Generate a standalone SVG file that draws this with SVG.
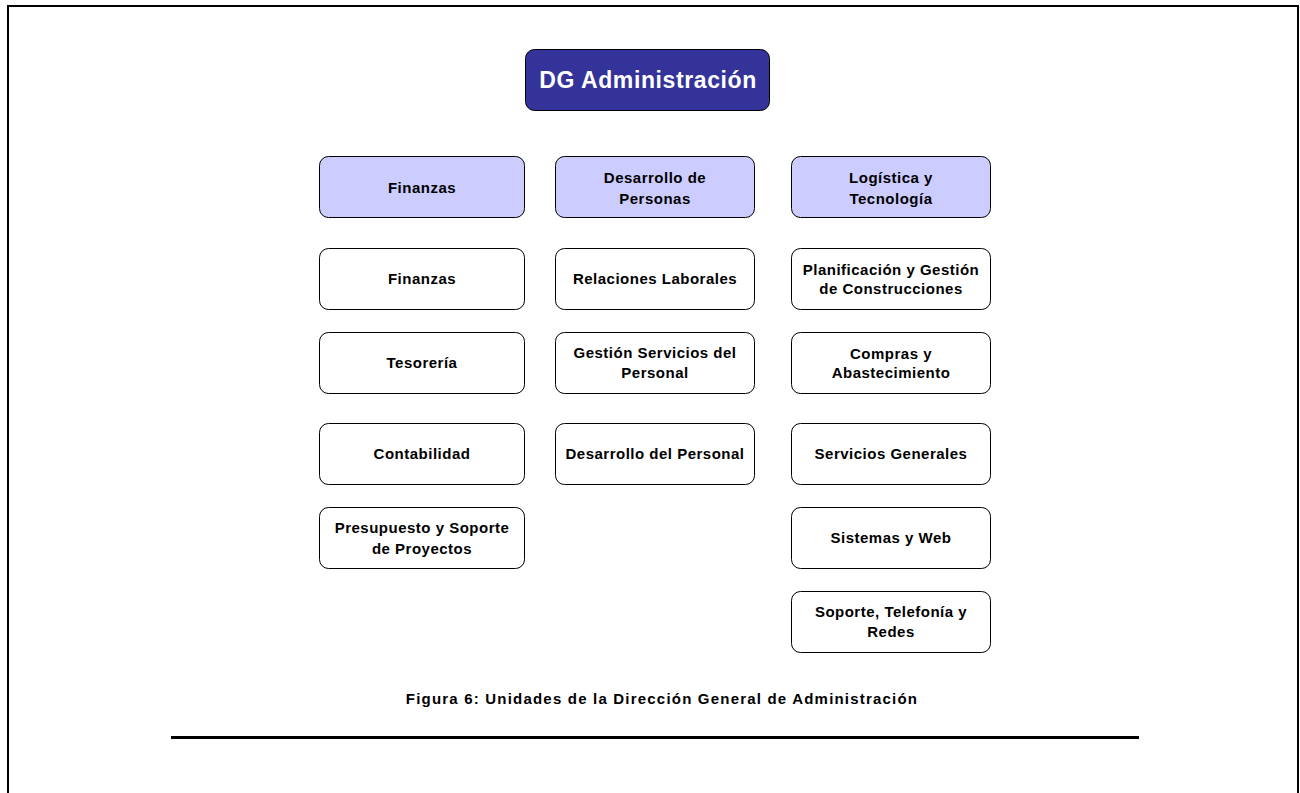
<svg xmlns="http://www.w3.org/2000/svg" width="1300" height="793" viewBox="0 0 1300 793">
<style>
.b{fill:#fff;stroke:#000;stroke-width:1}
.h{fill:#ccccff;stroke:#000;stroke-width:1}
.t{font-family:"Liberation Sans",Arial,sans-serif;font-size:15px;font-weight:bold;fill:#000;text-anchor:middle;letter-spacing:0.5px}
</style>
<rect x="0" y="0" width="1300" height="793" fill="#fff"/>
<path d="M8 793V6H1298V793" fill="none" stroke="#000" stroke-width="2"/>
<line x1="171" y1="737.5" x2="1139" y2="737.5" stroke="#000" stroke-width="3"/>
<g id="dg"><rect x="525.5" y="49.5" width="244" height="61" rx="9" fill="#333399" stroke="#000"/><text x="648" y="88" font-family="Liberation Sans,Arial,sans-serif" font-size="23" font-weight="bold" fill="#fff" text-anchor="middle" letter-spacing="0.6">DG Administración</text></g>
<g id="h1"><rect class="h" x="319.5" y="156.5" width="205" height="61" rx="9"/><text class="t" x="422" y="193">Finanzas</text></g>
<g id="h2"><rect class="h" x="555.5" y="156.5" width="199" height="61" rx="9"/><text class="t" x="655" y="183">Desarrollo de</text><text class="t" x="655" y="204">Personas</text></g>
<g id="h3"><rect class="h" x="791.5" y="156.5" width="199" height="61" rx="9"/><text class="t" x="891" y="183">Logística y</text><text class="t" x="891" y="204">Tecnología</text></g>
<g id="f1"><rect class="b" x="319.5" y="248.5" width="205" height="61" rx="9"/><text class="t" x="422" y="284">Finanzas</text></g>
<g id="f2"><rect class="b" x="319.5" y="332.5" width="205" height="61" rx="9"/><text class="t" x="422" y="368">Tesorería</text></g>
<g id="f3"><rect class="b" x="319.5" y="423.5" width="205" height="61" rx="9"/><text class="t" x="422" y="459">Contabilidad</text></g>
<g id="f4"><rect class="b" x="319.5" y="507.5" width="205" height="61" rx="9"/><text class="t" x="422" y="533">Presupuesto y Soporte</text><text class="t" x="422" y="554">de Proyectos</text></g>
<g id="p1"><rect class="b" x="555.5" y="248.5" width="199" height="61" rx="9"/><text class="t" x="655" y="284">Relaciones Laborales</text></g>
<g id="p2"><rect class="b" x="555.5" y="332.5" width="199" height="61" rx="9"/><text class="t" x="655" y="358">Gestión Servicios del</text><text class="t" x="655" y="378">Personal</text></g>
<g id="p3"><rect class="b" x="555.5" y="423.5" width="199" height="61" rx="9"/><text class="t" x="655" y="459">Desarrollo del Personal</text></g>
<g id="l1"><rect class="b" x="791.5" y="248.5" width="199" height="61" rx="9"/><text class="t" x="891" y="275">Planificación y Gestión</text><text class="t" x="891" y="294">de Construcciones</text></g>
<g id="l2"><rect class="b" x="791.5" y="332.5" width="199" height="61" rx="9"/><text class="t" x="891" y="359">Compras y</text><text class="t" x="891" y="378">Abastecimiento</text></g>
<g id="l3"><rect class="b" x="791.5" y="423.5" width="199" height="61" rx="9"/><text class="t" x="891" y="459">Servicios Generales</text></g>
<g id="l4"><rect class="b" x="791.5" y="507.5" width="199" height="61" rx="9"/><text class="t" x="891" y="543">Sistemas y Web</text></g>
<g id="l5"><rect class="b" x="791.5" y="591.5" width="199" height="61" rx="9"/><text class="t" x="891" y="617">Soporte, Telefonía y</text><text class="t" x="891" y="637">Redes</text></g>
<g id="connectors"></g>
<text x="662" y="704" font-family="Liberation Sans,Arial,sans-serif" font-size="15" font-weight="bold" fill="#000" text-anchor="middle" letter-spacing="1.2">Figura 6: Unidades de la Dirección General de Administración</text>
</svg>
